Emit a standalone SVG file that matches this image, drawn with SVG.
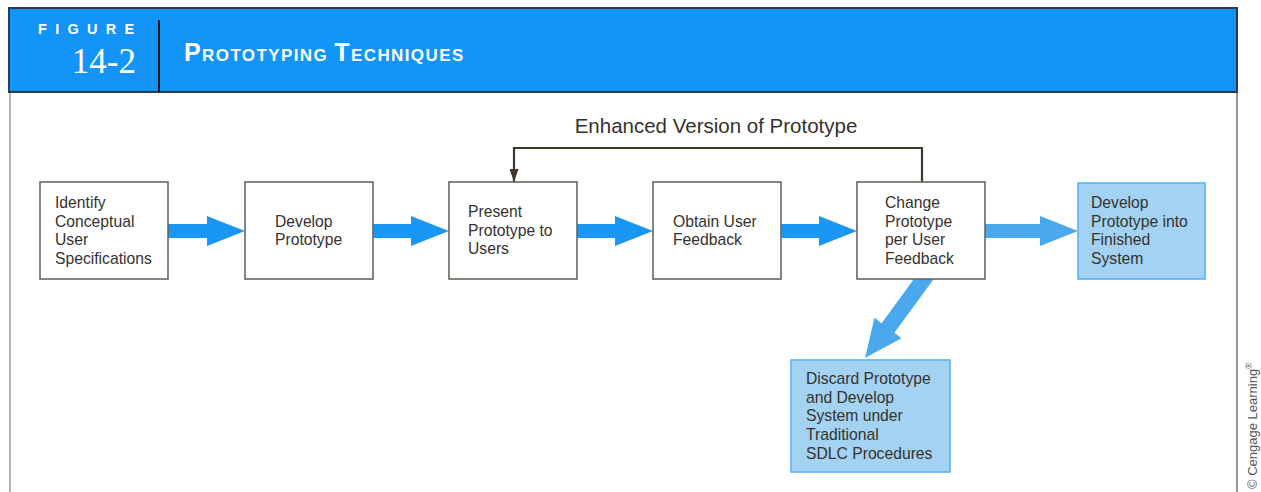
<svg xmlns="http://www.w3.org/2000/svg" width="1261" height="492" viewBox="0 0 1261 492">
  <style>
    .box { fill: #ffffff; stroke: #6b655c; stroke-width: 1.6; }
    .boxb { fill: #a3d2f2; stroke: #5ab2f2; stroke-width: 1.6; }
    .lbl { font-family: "Liberation Sans", Arial, sans-serif; font-size: 15.7px; fill: #35322e; }
    .arr { fill: #1a97f4; }
    .arrl { fill: #4aa8ef; }
    .loop { fill: none; stroke: #3e382f; stroke-width: 2.2; }
  </style>
  <defs>
    <marker id="tip" viewBox="0 0 10 10" refX="10" refY="5" markerWidth="13" markerHeight="9" markerUnits="userSpaceOnUse" orient="auto" preserveAspectRatio="none">
      <path d="M0,0 L10,5 L0,10 Z" fill="#3e382f"/>
    </marker>
  </defs>

  <rect width="1261" height="492" fill="#ffffff"/>

  <!-- frame -->
  <g id="frame">
    <line x1="10" y1="92" x2="10" y2="492" stroke="#9a9a9a" stroke-width="1.5"/>
    <line x1="1237" y1="92" x2="1237" y2="492" stroke="#7a746a" stroke-width="1.5"/>
  </g>

  <!-- title bar -->
  <g id="header">
    <rect x="9" y="8" width="1228" height="84" fill="#1294f9" stroke="#2b3b4b" stroke-width="2"/>
    <line x1="159" y1="20" x2="159" y2="92" stroke="#141414" stroke-width="2"/>
    <text x="38" y="33.5" font-family="Liberation Sans, Arial, sans-serif" font-weight="bold" font-size="14.5px" letter-spacing="8.3" fill="#ffffff">FIGURE</text>
    <text x="136" y="73" text-anchor="end" font-family="Liberation Serif, Times New Roman, serif" font-size="35px" fill="#ffffff">14-2</text>
    <text x="184" y="61" font-family="Liberation Sans, Arial, sans-serif" font-weight="bold" fill="#ffffff" letter-spacing="1.4"><tspan font-size="25px">P</tspan><tspan font-size="17px">ROTOTYPING </tspan><tspan font-size="25px">T</tspan><tspan font-size="17px">ECHNIQUES</tspan></text>
  </g>

  <!-- connectors -->
  <g id="connectors">
    <polygon class="arr" points="166,224 207,224 207,216 245,231 207,246 207,238 166,238"/>
    <polygon class="arr" points="371,224 411,224 411,216 449,231 411,246 411,238 371,238"/>
    <polygon class="arr" points="575,224 615,224 615,216 653,231 615,246 615,238 575,238"/>
    <polygon class="arr" points="779,224 819,224 819,216 857,231 819,246 819,238 779,238"/>
    <polygon class="arrl" points="983,224 1040,224 1040,216 1078,231 1040,246 1040,238 983,238"/>
    <polygon class="arrl" points="922.6,267.2 935.4,276.8 894.4,332.8 901.5,338.3 865,358 874.5,317.7 881.6,323.2"/>
    <polyline class="loop" points="922,182 922,148 514,148 514,182" marker-end="url(#tip)"/>
    <text x="716" y="133" text-anchor="middle" font-family="Liberation Sans, Arial, sans-serif" font-size="20.5px" fill="#35322e">Enhanced Version of Prototype</text>
  </g>

  <!-- process steps -->
  <g id="identify">
    <rect class="box" x="40" y="182" width="128" height="97"/>
    <text class="lbl"><tspan x="55" y="208">Identify</tspan><tspan x="55" y="227">Conceptual</tspan><tspan x="55" y="245">User</tspan><tspan x="55" y="264">Specifications</tspan></text>
  </g>
  <g id="develop">
    <rect class="box" x="245" y="182" width="128" height="97"/>
    <text class="lbl"><tspan x="275" y="227">Develop</tspan><tspan x="275" y="245">Prototype</tspan></text>
  </g>
  <g id="present">
    <rect class="box" x="449" y="182" width="128" height="97"/>
    <text class="lbl"><tspan x="468" y="217">Present</tspan><tspan x="468" y="236">Prototype to</tspan><tspan x="468" y="254">Users</tspan></text>
  </g>
  <g id="obtain">
    <rect class="box" x="653" y="182" width="128" height="97"/>
    <text class="lbl"><tspan x="673" y="227">Obtain User</tspan><tspan x="673" y="245">Feedback</tspan></text>
  </g>
  <g id="change">
    <rect class="box" x="857" y="182" width="128" height="97"/>
    <text class="lbl"><tspan x="885" y="208">Change</tspan><tspan x="885" y="227">Prototype</tspan><tspan x="885" y="245">per User</tspan><tspan x="885" y="264">Feedback</tspan></text>
  </g>
  <g id="finished">
    <rect class="boxb" x="1078" y="183" width="127" height="96"/>
    <text class="lbl"><tspan x="1091" y="208">Develop</tspan><tspan x="1091" y="227">Prototype into</tspan><tspan x="1091" y="245">Finished</tspan><tspan x="1091" y="264">System</tspan></text>
  </g>
  <g id="discard">
    <rect class="boxb" x="791" y="360" width="159" height="112"/>
    <text class="lbl"><tspan x="806" y="384">Discard Prototype</tspan><tspan x="806" y="403">and Develop</tspan><tspan x="806" y="421">System under</tspan><tspan x="806" y="440">Traditional</tspan><tspan x="806" y="459">SDLC Procedures</tspan></text>
  </g>

  <!-- credit line -->
  <text transform="translate(1257,489) rotate(-90)" font-family="Liberation Sans, Arial, sans-serif" font-size="13px" fill="#555555">© Cengage Learning<tspan font-size="8.5px" dy="-5">®</tspan></text>
</svg>
